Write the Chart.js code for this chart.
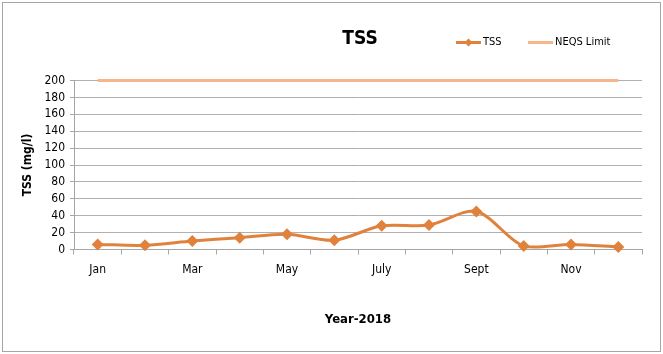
<!DOCTYPE html>
<html lang="en">
<head>
    <meta charset="UTF-8">
    <title>TSS</title>
    <script src="https://cdn.jsdelivr.net/npm/chart.js"></script>
    <style>
        body { margin: 0; background: #fff; }
        .box_grafico { width: 663px; height: 354px; }
    </style>
</head>
<body>
    <div class="box_grafico">
        <canvas id="graficoTss"></canvas>
    </div>
<script>
    // dados do ano de 2018
    const meses = ['Jan', 'Feb', 'Mar', 'Apr', 'May', 'June', 'July', 'Aug', 'Sept', 'Oct', 'Nov', 'Dec'];
    const valoresTss = [6, 5, 10, 14, 18, 11, 28, 29, 45, 4, 6, 3];
    const limiteNeqs = [200, 200, 200, 200, 200, 200, 200, 200, 200, 200, 200, 200];
    const ticksY = [0, 20, 40, 60, 80, 100, 120, 140, 160, 180, 200];

    const fonte = '"Liberation Sans Narrow", "DejaVu Sans Condensed", "Liberation Sans", sans-serif';
    const corTss = '#e0823c';
    const corNeqs = '#f8b48c';

    // moldura, titulo e legenda desenhados a mao
    const moldura = {
        id: 'moldura',
        afterDraw(chart) {
            const ctx = chart.ctx;
            ctx.save();
            ctx.strokeStyle = '#a6a6a6';
            ctx.lineWidth = 1;
            ctx.strokeRect(2.5, 2.5, 658, 349);

            ctx.fillStyle = '#000';
            ctx.textBaseline = 'middle';
            ctx.textAlign = 'center';
            ctx.font = 'bold 19px ' + fonte;
            ctx.fillText('TSS', 360, 39);

            ctx.textAlign = 'left';
            ctx.font = '11px ' + fonte;
            const itens = [
                { x: 456, ds: chart.data.datasets[0] },
                { x: 528, ds: chart.data.datasets[1] }
            ];
            itens.forEach(item => {
                ctx.strokeStyle = item.ds.borderColor;
                ctx.lineWidth = 3;
                ctx.beginPath();
                ctx.moveTo(item.x, 42.5);
                ctx.lineTo(item.x + 25, 42.5);
                ctx.stroke();
                if (item.ds.pointRadius) {
                    ctx.fillStyle = item.ds.borderColor;
                    ctx.beginPath();
                    ctx.moveTo(item.x + 12.5, 38.5);
                    ctx.lineTo(item.x + 16.5, 42.5);
                    ctx.lineTo(item.x + 12.5, 46.5);
                    ctx.lineTo(item.x + 8.5, 42.5);
                    ctx.fill();
                }
                ctx.fillStyle = '#000';
                ctx.fillText(item.ds.label, item.x + 27, 42.5);
            });
            ctx.restore();
        }
    };

    new Chart('graficoTss', {
        type: 'line',
        data: {
            labels: meses,
            datasets: [{
                label: 'TSS',
                data: valoresTss,
                borderColor: corTss,
                backgroundColor: corTss,
                borderWidth: 3,
                tension: 0.3,
                pointStyle: 'rectRot',
                pointRadius: 6,
                pointBorderWidth: 0,
                clip: 8
            }, {
                label: 'NEQS Limit',
                data: limiteNeqs,
                borderColor: corNeqs,
                backgroundColor: corNeqs,
                borderWidth: 3,
                pointRadius: 0,
                clip: 8
            }]
        },
        options: {
            responsive: true,
            maintainAspectRatio: false,
            animation: false,
            layout: { padding: { top: 80.5, right: 21, left: 0, bottom: 0 } },
            plugins: {
                legend: { display: false },
                title: { display: false },
                tooltip: { enabled: false }
            },
            scales: {
                x: {
                    offset: true,
                    afterFit: s => { s.height = 104.5; },
                    grid: {
                        offset: true,
                        drawOnChartArea: false,
                        tickLength: 5,
                        tickColor: '#a6a6a6'
                    },
                    border: { color: '#a6a6a6' },
                    ticks: {
                        autoSkip: false,
                        maxRotation: 0,
                        padding: 8,
                        color: '#000',
                        font: { family: fonte, size: 12 },
                        callback: (v, i) => i % 2 === 0 ? meses[i] : ''
                    },
                    title: {
                        display: true,
                        text: 'Year-2018',
                        color: '#000',
                        font: { family: fonte, size: 13, weight: 'bold' },
                        padding: { top: 0, bottom: 27 }
                    }
                },
                y: {
                    min: 0,
                    max: 200,
                    afterFit: s => { s.width = 74; },
                    afterBuildTicks: s => { s.ticks = ticksY.map(v => ({ value: v })); },
                    grid: {
                        color: '#b0b0b0',
                        tickLength: 4,
                        tickColor: '#a6a6a6'
                    },
                    border: { color: '#a6a6a6' },
                    ticks: {
                        autoSkip: false,
                        padding: 5,
                        color: '#000',
                        font: { family: fonte, size: 12 }
                    },
                    title: {
                        display: true,
                        text: 'TSS (mg/l)',
                        color: '#000',
                        font: { family: fonte, size: 12, weight: 'bold' },
                        padding: { top: 21, bottom: 0 }
                    }
                }
            }
        },
        plugins: [moldura]
    });
</script>
</body>
</html>
